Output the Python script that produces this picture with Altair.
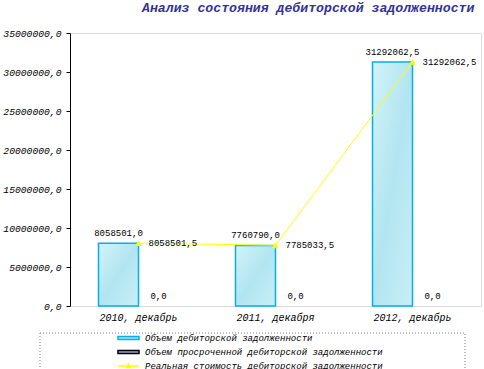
import altair as alt
import pandas as pd

categories = ["2010, декабрь", "2011, декабря", "2012, декабрь"]
series_names = [
    "Объем дебиторской задолженности",
    "Объем просроченной дебиторской задолженности",
    "Реальная стоимость дебиторской задолженности",
]
receivables = [8058501.0, 7760790.0, 31292062.5]
overdue = [0.0, 0.0, 0.0]
real_value = [8058501.5, 7785033.5, 31292062.5]
y_ticks = [0, 5000000, 10000000, 15000000, 20000000, 25000000, 30000000, 35000000]

MONO = "Liberation Mono"
fmt = "replace(format(datum.value, '.1f'), '.', ',')"

bars_df = pd.DataFrame({
    "cat": categories * 2,
    "series": [series_names[0]] * 3 + [series_names[1]] * 3,
    "value": receivables + overdue,
})
line_df = pd.DataFrame({"cat": categories, "series": series_names[2], "value": real_value})

x_enc = alt.X(
    "cat:N", sort=categories,
    scale=alt.Scale(domain=categories, paddingInner=57 / 137, paddingOuter=57 / 274),
    axis=alt.Axis(title=None, labelAngle=0, domain=False, ticks=False,
                  labelFont=MONO, labelFontSize=10, labelFontStyle="italic",
                  labelColor="#000000", labelPadding=6),
)
y_enc = alt.Y(
    "value:Q",
    scale=alt.Scale(domain=[0, 35000000], nice=False, zero=True),
    axis=alt.Axis(title=None, values=y_ticks, labelExpr=fmt, grid=False,
                  domainColor="#000000", tickColor="#000000", tickSize=4,
                  labelPadding=5, labelFont=MONO, labelFontSize=9.7,
                  labelFontStyle="italic", labelColor="#000000"),
)
xoff = alt.XOffset("series:N", sort=series_names[:2],
                   scale=alt.Scale(domain=series_names[:2], paddingInner=0, paddingOuter=0))

bar_fill = alt.Gradient(
    gradient="linear",
    stops=[alt.GradientStop(color="#d2f3f9", offset=0),
           alt.GradientStop(color="#b2e5f0", offset=0.5),
           alt.GradientStop(color="#c8eff7", offset=1)],
    x1=0, x2=1, y1=0, y2=1,
)

base_bars = alt.Chart(bars_df).transform_calculate(label=fmt)

bars = base_bars.transform_filter(f"datum.series == '{series_names[0]}'").mark_bar(
    fill=bar_fill, stroke="#00b0f0", strokeWidth=1.5
).encode(x=x_enc, xOffset=xoff, y=y_enc)

bar_text = base_bars.mark_text(
    font=MONO, fontSize=9, color="#000000", baseline="middle", dy=-10
).encode(x=x_enc, xOffset=xoff, y=y_enc, text="label:N")

line = alt.Chart(line_df).mark_line(color="#ffff00", strokeWidth=1).encode(x=x_enc, y=y_enc)
pts = alt.Chart(line_df).mark_point(shape="triangle-up", filled=True, color="#ffff00",
                                    size=45, opacity=1).encode(x=x_enc, y=y_enc)
line_text = alt.Chart(line_df).transform_calculate(label=fmt).mark_text(
    font=MONO, fontSize=9, color="#000000", align="left", baseline="middle", dx=10
).encode(x=x_enc, y=y_enc, text="label:N")

rect_path = "M-2.1,-0.3H2.1V0.3H-2.1Z"
line_path = "M-2.1,0H2.1M-0.4,0.28L0,-0.4L0.4,0.28Z"
leg = alt.Legend(title=None, orient="none", legendX=52.5, legendY=299, padding=0,
                 labelFont=MONO, labelFontSize=9, labelFontStyle="italic",
                 labelColor="#000000", labelOffset=10.5, rowPadding=3, labelLimit=0,
                 symbolSize=100, symbolStrokeWidth=1.5)
legend_layer = alt.Chart(line_df).transform_filter("false").mark_point(filled=True, opacity=1).encode(
    fill=alt.Fill("series:N", scale=alt.Scale(domain=series_names, range=["#ace2ee", "#a0a0dc", "#ffff00"]), legend=leg),
    stroke=alt.Stroke("series:N", scale=alt.Scale(domain=series_names, range=["#00b0f0", "#000000", "#ffff00"]), legend=leg),
    shape=alt.Shape("series:N", scale=alt.Scale(domain=series_names, range=[rect_path, rect_path, line_path]), legend=leg),
)

frame = alt.Chart(pd.DataFrame({"a": [0]})).mark_rect(
    fillOpacity=0, stroke="#808080", strokeWidth=1, strokeDash=[1, 2]
).encode(x=alt.value(-30), x2=alt.value(395), y=alt.value(300), y2=alt.value(345))

chart = alt.layer(bars, bar_text, line, pts, line_text, legend_layer, frame).properties(
    width=411, height=273,
    autosize=alt.AutoSizeParams(type="none"),
    padding={"left": 70, "top": 33, "right": 3, "bottom": 63},
    title=alt.TitleParams("Анализ состояния дебиторской задолженности", anchor="start",
                          frame="group", dx=72, offset=3, font=MONO, fontSize=13.2,
                          fontWeight="bold", fontStyle="italic", color="#333399",
                          baseline="alphabetic"),
).configure_view(stroke="#808080", strokeDash=[3, 2], strokeWidth=1).configure(background="white")

chart.save("out.html", embed_options={"renderer": "svg", "actions": False})
